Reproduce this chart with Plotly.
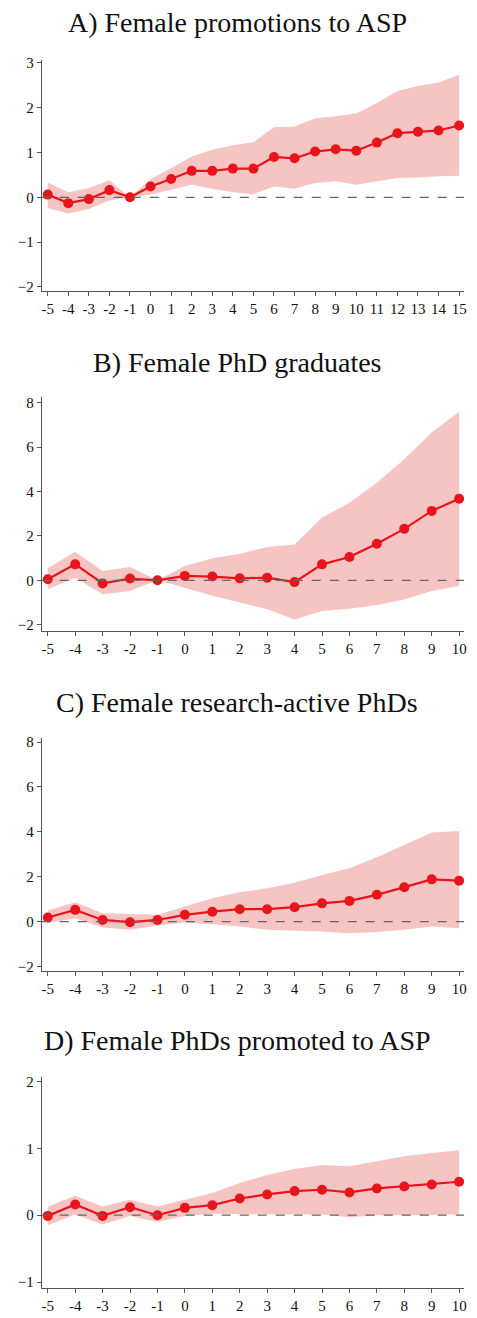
import plotly.graph_objects as go
from plotly.subplots import make_subplots

W, H = 477, 1318

# event time
years_a = list(range(-5, 16))
years_b = list(range(-5, 11))

# A) Female promotions to ASP
coef_a = [0.06, -0.13, -0.04, 0.16, 0.0, 0.24, 0.41, 0.59, 0.59, 0.64, 0.64,
          0.90, 0.87, 1.02, 1.07, 1.04, 1.22, 1.43, 1.46, 1.49, 1.60]
hi_a = [0.33, 0.11, 0.21, 0.38, 0.0, 0.41, 0.65, 0.91, 1.06, 1.16, 1.23,
        1.56, 1.58, 1.76, 1.81, 1.87, 2.10, 2.37, 2.48, 2.56, 2.73]
lo_a = [-0.24, -0.36, -0.26, -0.07, 0.0, 0.06, 0.17, 0.28, 0.19, 0.11, 0.07,
        0.24, 0.19, 0.32, 0.36, 0.28, 0.36, 0.43, 0.44, 0.47, 0.48]

# B) Female PhD graduates
coef_b = [0.05, 0.72, -0.14, 0.08, 0.0, 0.20, 0.17, 0.09, 0.12, -0.08,
          0.72, 1.05, 1.65, 2.32, 3.13, 3.68]
hi_b = [0.54, 1.29, 0.42, 0.60, 0.0, 0.65, 1.00, 1.20, 1.50, 1.62,
        2.83, 3.50, 4.40, 5.46, 6.66, 7.60]
lo_b = [-0.40, 0.12, -0.63, -0.48, 0.0, -0.33, -0.70, -1.00, -1.30, -1.76,
        -1.38, -1.28, -1.11, -0.86, -0.48, -0.25]

# C) Female research-active PhDs
coef_c = [0.18, 0.52, 0.07, -0.03, 0.07, 0.30, 0.44, 0.55, 0.55, 0.64,
          0.81, 0.92, 1.19, 1.53, 1.88, 1.82]
hi_c = [0.49, 0.86, 0.37, 0.33, 0.30, 0.67, 1.04, 1.30, 1.48, 1.73,
        2.07, 2.37, 2.86, 3.41, 3.97, 4.03]
lo_c = [-0.07, 0.15, -0.27, -0.37, -0.18, -0.04, -0.12, -0.22, -0.37, -0.41,
        -0.44, -0.52, -0.47, -0.37, -0.22, -0.30]

# D) Female PhDs promoted to ASP
coef_d = [-0.01, 0.16, -0.01, 0.12, 0.0, 0.11, 0.15, 0.25, 0.31, 0.36,
          0.38, 0.34, 0.40, 0.43, 0.46, 0.50]
hi_d = [0.13, 0.29, 0.13, 0.23, 0.13, 0.23, 0.33, 0.48, 0.60, 0.69,
        0.75, 0.73, 0.81, 0.88, 0.93, 0.97]
lo_d = [-0.15, 0.01, -0.14, -0.01, -0.10, -0.01, 0.02, 0.02, 0.01, 0.01,
        0.01, -0.03, 0.0, 0.0, 0.0, 0.01]

titles = ["A) Female promotions to ASP", "B) Female PhD graduates",
          "C) Female research-active PhDs", "D) Female PhDs promoted to ASP"]

RED = "#e8141c"
BAND = "rgba(246,186,186,0.85)"
AXIS = "#555555"

panels = [
    dict(x=years_a, y=coef_a, hi=hi_a, lo=lo_a, top=55, bot=288,
         yr=[-2.09, 3.07], yt=[-2, -1, 0, 1, 2, 3], xr=[-5.29, 15.24], title_y=18),
    dict(x=years_b, y=coef_b, hi=hi_b, lo=lo_b, top=395, bot=630,
         yr=[-2.27, 8.25], yt=[-2, 0, 2, 4, 6, 8], xr=[-5.22, 10.18], title_y=360),
    dict(x=years_b, y=coef_c, hi=hi_c, lo=lo_c, top=738, bot=973,
         yr=[-2.22, 8.18], yt=[-2, 0, 2, 4, 6, 8], xr=[-5.22, 10.18], title_y=702),
    dict(x=years_b, y=coef_d, hi=hi_d, lo=lo_d, top=1079, bot=1292,
         yr=[-1.09, 2.07], yt=[-1, 0, 1, 2], xr=[-5.22, 10.18], title_y=1043),
]

fig = make_subplots(rows=4, cols=1)

for i, p in enumerate(panels, start=1):
    # confidence band
    fig.add_trace(go.Scatter(x=p["x"], y=p["lo"], mode="lines",
                             line=dict(width=0), showlegend=False,
                             hoverinfo="skip"), row=i, col=1)
    fig.add_trace(go.Scatter(x=p["x"], y=p["hi"], mode="lines",
                             line=dict(width=0), fill="tonexty",
                             fillcolor=BAND, showlegend=False,
                             hoverinfo="skip"), row=i, col=1)
    # zero line
    fig.add_hline(y=0, line_dash="dash", line_color="#666666",
                  line_width=1.2, row=i, col=1)
    # point estimates
    fig.add_trace(go.Scatter(x=p["x"], y=p["y"], mode="lines+markers",
                             line=dict(color=RED, width=2.2),
                             marker=dict(color=RED, size=10),
                             showlegend=False), row=i, col=1)

    ydom = [1 - p["bot"] / H, 1 - p["top"] / H]
    xdom = [42 / W, 467 / W]
    fig.update_xaxes(domain=xdom, range=p["xr"], tickmode="array",
                     tickvals=p["x"], ticktext=[str(v) for v in p["x"]],
                     showgrid=False, zeroline=False, showline=True,
                     linecolor=AXIS, linewidth=1, ticks="outside",
                     ticklen=4, tickcolor=AXIS, row=i, col=1)
    fig.update_yaxes(domain=ydom, range=p["yr"], tickmode="array",
                     tickvals=p["yt"], showgrid=False, zeroline=False,
                     showline=True, linecolor=AXIS, linewidth=1,
                     ticks="outside", ticklen=4, tickcolor=AXIS,
                     row=i, col=1)
    fig.add_annotation(text=titles[i - 1], xref="paper", yref="paper",
                       x=0.5, y=1 - p["title_y"] / H, showarrow=False,
                       xanchor="center", yanchor="middle",
                       font=dict(family="Liberation Serif", size=28,
                                 color="#111111"))

fig.update_layout(
    width=W, height=H,
    margin=dict(l=0, r=0, t=0, b=0),
    paper_bgcolor="white",
    plot_bgcolor="white",
    font=dict(family="Liberation Serif", size=15, color="#111111"),
)

# drop the default page margin so the figure sits at the window's corner
fig.write_html("out.html", config={"displayModeBar": False},
               post_script="document.body.style.margin='0';")
